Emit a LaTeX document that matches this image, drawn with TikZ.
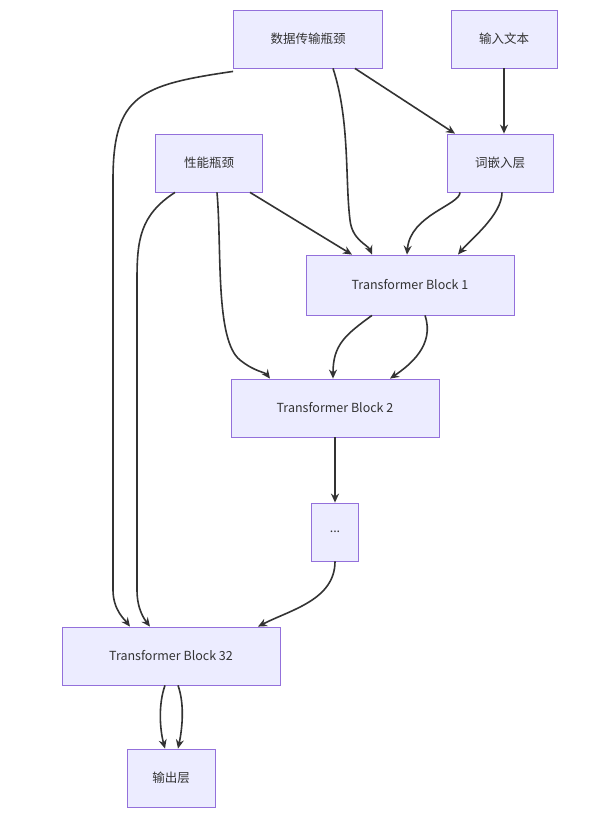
\documentclass[tikz,border=0pt]{standalone}
\usepackage{fontspec}
\setmainfont{Noto Sans CJK SC}
\usetikzlibrary{arrows.meta}
\definecolor{boxfill}{HTML}{ECECFF}
\definecolor{boxline}{HTML}{9370DB}
\definecolor{edge}{HTML}{333333}
\begin{document}
\begin{tikzpicture}[x=1pt, y=-1pt,
        box/.style={rectangle, draw=boxline, fill=boxfill, line width=0.8pt, minimum height=58pt, inner xsep=12pt, font=\fontsize{12.5}{15}\selectfont, text=edge},
        flow/.style={-{Stealth[length=9pt, width=8pt]}, draw=edge, line width=1.6pt}]
        \useasboundingbox (0,0) rectangle (602,820);
        % Nodes
        \node (data) [box, minimum width=149pt] at (308,39) {数据传输瓶颈};
        \node (text) [box, minimum width=106pt] at (504,39) {输入文本};
        \node (perf) [box, minimum width=107pt] at (209,163) {性能瓶颈};
        \node (embed) [box, minimum width=106pt] at (500,163) {词嵌入层};
        \node (tb1) [box, minimum width=208pt, minimum height=60pt] at (410,285) {Transformer Block 1};
        \node (tb2) [box, minimum width=208pt] at (335,408) {Transformer Block 2};
        \node (dots) [box, minimum width=47pt, inner xsep=4pt] at (335,532) {...};
        \node (tb32) [box, minimum width=218pt] at (171,656) {Transformer Block 32};
        \node (out) [box, minimum width=88pt] at (171,778) {输出层};

        % Arrows
        \draw[flow] (data.south east) ++(-28,0) -- ([xshift=-45pt]embed.north);
        \draw[flow] ([xshift=25pt]data.south) .. controls (350,120) and (345,180) .. (350,220) .. controls (352,240) and (368,245) .. ([xshift=-38pt]tb1.north);
        \draw[flow] ([yshift=-3pt]data.south west) .. controls (140,85) and (113,95) .. (113,180) -- (113,590) .. controls (113,610) and (125,620) .. ([xshift=-41pt]tb32.north);
        \draw[flow] (text) -- ([xshift=4pt]embed.north);
        \draw[flow] ([xshift=-40pt]embed.south) .. controls (460,205) and (410,215) .. ([xshift=-3pt]tb1.north);
        \draw[flow] ([xshift=2pt]embed.south) .. controls (502,215) and (470,240) .. ([xshift=48pt]tb1.north);
        \draw[flow] ([xshift=41pt]perf.south) -- ([xshift=-58pt]tb1.north);
        \draw[flow] ([xshift=8pt]perf.south) .. controls (222,250) and (215,340) .. (240,360) .. controls (255,372) and (265,372) .. ([xshift=-65pt]tb2.north);
        \draw[flow] ([xshift=-34pt]perf.south) .. controls (140,215) and (137,240) .. (137,280) -- (137,590) .. controls (137,610) and (145,620) .. ([xshift=-21pt]tb32.north);
        \draw[flow] ([xshift=-38pt]tb1.south) .. controls (345,335) and (333,345) .. ([xshift=-2pt]tb2.north);
        \draw[flow] ([xshift=15pt]tb1.south) .. controls (435,345) and (410,365) .. ([xshift=55pt]tb2.north);
        \draw[flow] (tb2) -- (dots);
        \draw[flow] (dots.south) .. controls (335,600) and (290,610) .. ([xshift=87pt]tb32.north);
        \draw[flow] ([xshift=-6pt]tb32.south) .. controls (158,705) and (160,730) .. ([xshift=-6pt]out.north);
        \draw[flow] ([xshift=7pt]tb32.south) .. controls (185,705) and (182,730) .. ([xshift=7pt]out.north);
    \end{tikzpicture}
\end{document}
